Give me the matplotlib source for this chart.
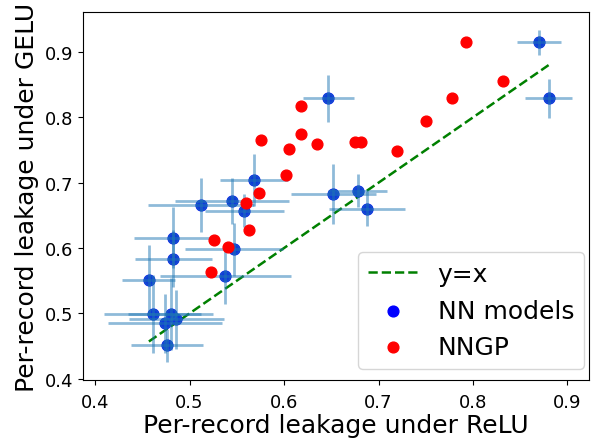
import numpy as np
import matplotlib
matplotlib.use("Agg")
import matplotlib.pyplot as plt

# NN models: leakage under ReLU (x) vs GELU (y), with std errors
nn_relu = [0.568, 0.512, 0.545, 0.558, 0.483, 0.483, 0.547, 0.538, 0.457, 0.461,
           0.480, 0.474, 0.486, 0.476, 0.647, 0.652, 0.678, 0.688, 0.870, 0.880]
nn_gelu = [0.704, 0.666, 0.672, 0.657, 0.616, 0.584, 0.598, 0.558, 0.551, 0.499,
           0.499, 0.485, 0.491, 0.451, 0.829, 0.683, 0.688, 0.660, 0.915, 0.829]
nn_relu_err = [0.036, 0.056, 0.060, 0.042, 0.042, 0.041, 0.052, 0.069, 0.028, 0.051,
               0.045, 0.060, 0.050, 0.038, 0.027, 0.045, 0.031, 0.040, 0.023, 0.025]
nn_gelu_err = [0.040, 0.041, 0.035, 0.025, 0.047, 0.043, 0.040, 0.043, 0.053, 0.060,
               0.055, 0.045, 0.045, 0.025, 0.036, 0.046, 0.025, 0.027, 0.019, 0.030]

# NNGP
gp_relu = [0.793, 0.832, 0.778, 0.750, 0.720, 0.675, 0.681, 0.635, 0.618, 0.618,
           0.576, 0.605, 0.602, 0.574, 0.560, 0.563, 0.526, 0.541, 0.523]
gp_gelu = [0.915, 0.856, 0.830, 0.795, 0.748, 0.762, 0.763, 0.760, 0.818, 0.775,
           0.766, 0.751, 0.712, 0.684, 0.669, 0.628, 0.613, 0.602, 0.564]

fig = plt.figure(figsize=(5.91, 4.39), dpi=100)
ax = fig.add_subplot(1, 1, 1)

lo, hi = min(nn_relu), max(nn_relu)
ax.plot([lo, hi], [lo, hi], "--", color="green", lw=1.8, label="y=x")
ax.scatter(nn_relu, nn_gelu, s=60, c="blue", label="NN models", zorder=2)
ax.errorbar(nn_relu, nn_gelu, xerr=nn_relu_err, yerr=nn_gelu_err, fmt="o",
            ms=7.5, alpha=0.5, lw=2, zorder=3)
ax.scatter(gp_relu, gp_gelu, s=60, c="red", label="NNGP", zorder=4)

ax.set_xlim(0.387, 0.923)
ax.set_ylim(0.398, 0.961)
ax.set_xticks([0.4, 0.5, 0.6, 0.7, 0.8, 0.9])
ax.set_yticks([0.4, 0.5, 0.6, 0.7, 0.8, 0.9])
ax.tick_params(labelsize=13)
ax.tick_params(axis="x", pad=6)
ax.set_xlabel("Per-record leakage under ReLU", fontsize=18, labelpad=1)
ax.set_ylabel("Per-record leakage under GELU", fontsize=18, labelpad=4)
ax.legend(loc="lower right", fontsize=18, bbox_to_anchor=(0.99, 0.03),
          borderaxespad=0)

fig.subplots_adjust(left=0.140, right=0.997, top=0.970, bottom=0.132)
fig.savefig("out.png", dpi=100)
